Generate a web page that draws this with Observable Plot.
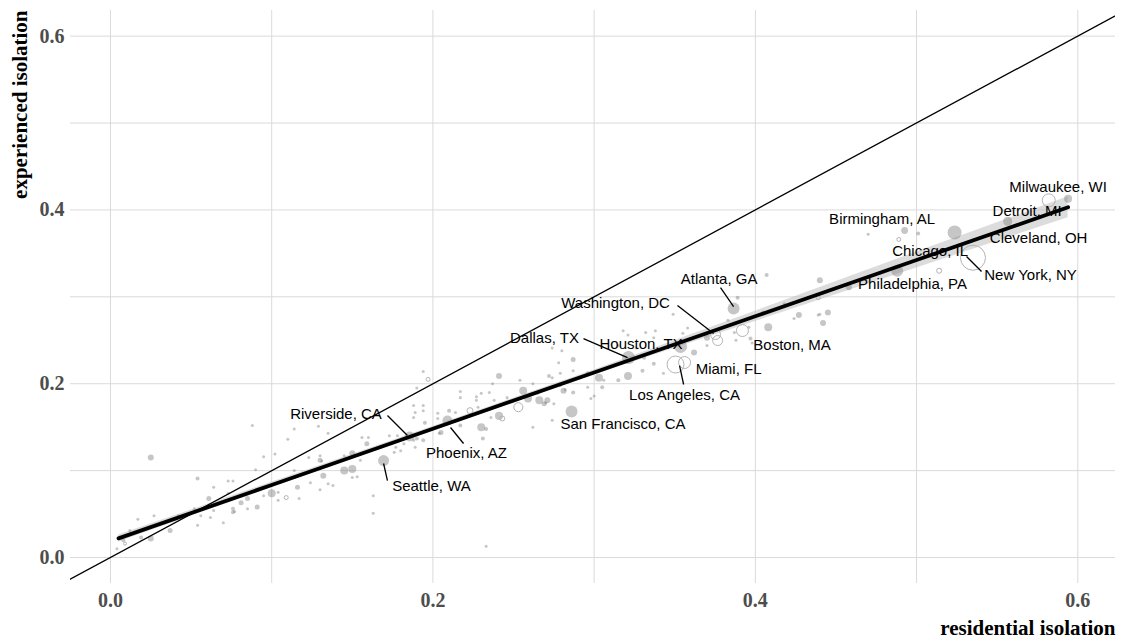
<!DOCTYPE html>
<html>
<head>
<meta charset="utf-8">
<script src="https://cdn.jsdelivr.net/npm/d3@7"></script>
<script src="https://cdn.jsdelivr.net/npm/@observablehq/plot@0.6"></script>
<style>
  body { margin: 0; background: #fff; }
  #chart svg { display: block; }
</style>
</head>
<body>
<div id="chart"></div>
<script>
// ---- scale extents and ticks ----
const xDomain = [-0.0248, 0.6234];
const yDomain = [-0.0299, 0.6295];
const gridTicks = [0, 0.1, 0.2, 0.3, 0.4, 0.5, 0.6];
const axisTicks = [0, 0.2, 0.4, 0.6];
const identityLine = [-0.03, 0.63]; // y = x reference line

// ---- unlabelled metros (filled) : residential, experienced, population (M) ----
const ptX = [0.025,0.054,0.004,0.006,0.008,0.012,0.017,0.019,0.025,0.027,0.037,0.042,0.052,0.054,0.056,0.061,0.062,0.064,0.064,0.070,
  0.073,0.073,0.076,0.076,0.077,0.076,0.081,0.085,0.085,0.088,0.090,0.091,0.095,0.095,0.100,0.102,0.104,0.110,0.114,0.114,
  0.116,0.117,0.114,0.123,0.124,0.129,0.130,0.130,0.131,0.130,0.132,0.135,0.135,0.138,0.145,0.145,0.150,0.150,0.153,0.156,
  0.159,0.160,0.163,0.163,0.173,0.174,0.177,0.178,0.180,0.188,0.189,0.190,0.194,0.194,0.195,0.203,0.205,0.204,0.210,0.214,
  0.217,0.228,0.230,0.233,0.231,0.241,0.241,0.194,0.190,0.217,0.217,0.227,0.230,0.235,0.237,0.246,0.256,0.259,0.266,0.269,
  0.270,0.272,0.274,0.278,0.281,0.282,0.287,0.287,0.274,0.262,0.296,0.296,0.298,0.300,0.303,0.305,0.315,0.318,0.318,0.321,
  0.321,0.326,0.331,0.332,0.338,0.337,0.349,0.362,0.370,0.383,0.389,0.388,0.397,0.396,0.398,0.408,0.405,0.407,0.418,0.424,
  0.427,0.439,0.440,0.442,0.445,0.440,0.458,0.470,0.501,0.155,0.150,0.104,0.227,0.238,0.236,0.254,0.262,0.265,0.271,0.274,
  0.279,0.280,0.203,0.194,0.189,0.188,0.188,0.176,0.182,0.233,0.287,0.343,0.330,0.306,0.300,0.355,0.358,0.387,0.370,0.337,
  0.315,0.279,0.275];
const ptY = [0.115,0.091,0.010,0.023,0.020,0.031,0.044,0.023,0.022,0.048,0.031,0.048,0.056,0.037,0.048,0.068,0.046,0.054,0.081,0.040,
  0.074,0.088,0.088,0.052,0.053,0.056,0.063,0.068,0.056,0.152,0.101,0.058,0.071,0.116,0.074,0.119,0.066,0.136,0.100,0.092,
  0.081,0.068,0.148,0.115,0.086,0.151,0.117,0.112,0.111,0.078,0.094,0.143,0.085,0.083,0.117,0.100,0.102,0.120,0.093,0.138,
  0.131,0.138,0.071,0.051,0.140,0.131,0.127,0.140,0.123,0.175,0.127,0.137,0.135,0.175,0.155,0.166,0.144,0.143,0.169,0.167,
  0.152,0.173,0.150,0.148,0.137,0.163,0.209,0.214,0.195,0.191,0.184,0.185,0.189,0.190,0.200,0.184,0.192,0.183,0.181,0.177,
  0.178,0.209,0.241,0.224,0.192,0.193,0.190,0.228,0.158,0.150,0.212,0.196,0.183,0.186,0.207,0.196,0.204,0.224,0.261,0.256,
  0.209,0.241,0.230,0.259,0.261,0.223,0.280,0.236,0.253,0.273,0.299,0.250,0.252,0.265,0.247,0.265,0.282,0.325,0.292,0.275,
  0.279,0.279,0.280,0.270,0.282,0.319,0.311,0.372,0.373,0.112,0.092,0.075,0.181,0.181,0.161,0.204,0.200,0.189,0.181,0.207,
  0.198,0.238,0.160,0.169,0.167,0.161,0.135,0.121,0.131,0.013,0.215,0.212,0.215,0.204,0.213,0.258,0.264,0.259,0.244,0.253,
  0.244,0.212,0.177];
const ptPop = [1.15,0.51,0.29,0.29,0.51,0.29,0.29,0.51,1.15,0.29,0.8,0.29,0.29,0.29,0.29,0.8,0.29,0.29,0.29,0.29,
  0.29,0.29,0.29,0.51,0.29,0.51,0.8,0.8,0.29,0.29,0.29,0.8,0.29,0.29,2.05,0.29,0.29,0.29,0.29,0.29,
  0.8,0.29,0.29,0.29,0.29,0.29,0.29,0.8,0.29,0.29,1.15,0.29,0.29,0.29,0.29,2.05,2.05,1.15,0.29,0.29,
  0.8,0.29,0.29,0.29,0.29,0.29,0.29,0.29,0.29,0.29,0.29,0.51,0.51,0.29,0.51,0.29,0.8,0.29,0.51,0.29,
  0.51,0.29,2.05,0.51,0.51,2.05,1.15,0.29,0.29,0.29,0.29,0.29,0.29,0.29,0.29,0.29,2.05,2.05,2.05,0.8,
  0.29,0.51,0.29,0.29,1.15,0.29,0.51,0.8,0.29,0.29,0.51,0.29,0.29,0.29,2.05,0.51,0.51,0.29,0.29,0.29,
  2.05,0.29,0.51,0.29,0.29,0.51,0.29,1.15,1.15,0.29,0.51,0.29,0.51,0.29,0.29,2.05,0.51,0.51,0.29,0.29,
  1.15,0.29,0.29,1.15,1.15,1.15,1.15,0.29,0.51,0.29,0.29,0.29,0.29,0.29,0.29,0.29,0.29,0.29,1.15,0.29,
  0.29,0.29,0.29,0.29,0.29,0.29,0.29,0.29,0.29,0.29,0.29,0.29,0.51,0.29,0.29,0.29,0.29,0.29,0.29,0.29,
  0.29,0.29,0.29];

// ---- unlabelled metros (open circles) ----
const openX = [0.009, 0.109, 0.223, 0.243, 0.197, 0.253, 0.439, 0.489, 0.514, 0.3766];
const openY = [0.016, 0.069, 0.169, 0.160, 0.205, 0.173, 0.299, 0.366, 0.330, 0.2497];
const openPop = [0.29, 0.51, 1.15, 0.8, 0.51, 2.6, 0.51, 0.51, 0.8, 3.2];

// ---- labelled metros ----
const cityName = ["Milwaukee, WI","Detroit, MI","Cleveland, OH","Chicago, IL","New York, NY","Philadelphia, PA",
  "Birmingham, AL","Atlanta, GA","Washington, DC","Dallas, TX","Houston, TX","Miami, FL","Los Angeles, CA",
  "Boston, MA","San Francisco, CA","Riverside, CA","Phoenix, AZ","Seattle, WA"];
const cityX = [0.594,0.582,0.5565,0.5236,0.535,0.488,0.4926,0.3865,0.3753,0.3213,0.3536,0.3561,0.3505,0.392,0.286,0.1855,0.209,0.1694];
const cityY = [0.413,0.411,0.387,0.374,0.345,0.330,0.3763,0.2865,0.2566,0.2301,0.2428,0.2244,0.2221,0.2612,0.168,0.1392,0.1577,0.1116];
const cityPop = [2.05,5.4,2.6,6.3,20,4.6,1.5,4.6,3.2,5.4,5.4,4.6,9.2,4.6,4.6,3.2,3.2,3.9];
const cityOpen = [false,true,false,false,true,false,false,false,true,false,false,true,true,true,false,false,false,false];
const labelX = [0.5878,0.5686,0.5757,0.5084,0.5707,0.4975,0.4786,0.3775,0.3133,0.2692,0.3291,0.3834,0.3561,0.4228,0.3179,0.1399,0.2208,0.1991];
const labelY = [0.4263,0.3982,0.3677,0.3521,0.3251,0.3142,0.389,0.3199,0.2929,0.2526,0.2451,0.2163,0.1864,0.2445,0.153,0.1646,0.1203,0.0817];

// ---- label leader segments ----
const segX1 = [0.531, 0.3784, 0.3517, 0.2934, 0.353, 0.1718, 0.2109, 0.1694];
const segY1 = [0.3464, 0.3107, 0.290, 0.252, 0.2209, 0.1634, 0.1496, 0.1082];
const segX2 = [0.5403, 0.3865, 0.3741, 0.3207, 0.3555, 0.1842, 0.219, 0.1718];
const segY2 = [0.3291, 0.2888, 0.2578, 0.2301, 0.1991, 0.1404, 0.1312, 0.0886];

// ---- fitted line and its confidence band ----
const fitX  = [0.005, 0.1, 0.2, 0.3, 0.4, 0.5, 0.594];
const fitY  = [0.0220, 0.0835, 0.1482, 0.2129, 0.2776, 0.3423, 0.4031];
const fitLo = [0.0180, 0.0805, 0.1457, 0.2099, 0.2717, 0.3331, 0.3911];
const fitHi = [0.0260, 0.0865, 0.1507, 0.2159, 0.2835, 0.3515, 0.4151];

// ---- build tables ----
const filled = ptX.map((x, i) => ({x, y: ptY[i], pop: ptPop[i]}));
const opened = openX.map((x, i) => ({x, y: openY[i], pop: openPop[i]}));
const cities = cityName.map((name, i) => ({name, x: cityX[i], y: cityY[i], pop: cityPop[i], open: cityOpen[i], lx: labelX[i], ly: labelY[i]}));
const allFilled = filled.concat(cities.filter(c => !c.open));
const allOpen = opened.concat(cities.filter(c => c.open));
const segs = segX1.map((x1, i) => ({x1, y1: segY1[i], x2: segX2[i], y2: segY2[i]}));
const band = fitX.map((x, i) => ({x, fit: fitY[i], lo: fitLo[i], hi: fitHi[i]}));

const serif = "'Liberation Serif', 'Times New Roman', serif";
const sans = "'Liberation Sans', Arial, Helvetica, sans-serif";

const chart = Plot.plot({
  width: 1124,
  height: 639,
  marginLeft: 70,
  marginRight: 9,
  marginTop: 10,
  marginBottom: 56,
  x: {domain: xDomain},
  y: {domain: yDomain},
  r: {type: "sqrt", domain: [0, 20], range: [0, 12.5]},
  style: {fontFamily: serif, background: "#fff"},
  marks: [
    Plot.gridX(gridTicks, {stroke: "#dadada", strokeOpacity: 1, strokeWidth: 1}),
    Plot.gridY(gridTicks, {stroke: "#dadada", strokeOpacity: 1, strokeWidth: 1}),
    Plot.axisX(axisTicks, {tickSize: 0, tickPadding: 9, tickFormat: d3.format(".1f"), fontSize: 20, fontWeight: "bold", fill: "#4d4d4d", label: null}),
    Plot.axisY(axisTicks, {tickSize: 0, tickPadding: 6, tickFormat: d3.format(".1f"), fontSize: 20, fontWeight: "bold", fill: "#4d4d4d", label: null}),
    Plot.areaY(band, {x: "x", y1: "lo", y2: "hi", fill: "#c4c4c4", fillOpacity: 0.6}),
    Plot.dot(allFilled, {x: "x", y: "y", r: "pop", fill: "#808080", fillOpacity: 0.45, stroke: "none"}),
    Plot.dot(allOpen, {x: "x", y: "y", r: "pop", fill: "none", stroke: "#b3b3b3", strokeWidth: 1}),
    Plot.line(identityLine, {x: d => d, y: d => d, stroke: "#000", strokeWidth: 1.3, clip: true}),
    Plot.line(band, {x: "x", y: "fit", stroke: "#000", strokeWidth: 3.8}),
    Plot.link(segs, {x1: "x1", y1: "y1", x2: "x2", y2: "y2", stroke: "#000", strokeWidth: 1.3}),
    Plot.text(cities, {x: "lx", y: "ly", text: "name", fontFamily: sans, fontSize: 15, fill: "#000"}),
    Plot.text(["experienced isolation"], {text: d => d, frameAnchor: "top-left", rotate: -90, textAnchor: "end", lineAnchor: "middle", dx: -50, fontSize: 21, fontWeight: "bold", fill: "#000"}),
    Plot.text(["residential isolation"], {text: d => d, frameAnchor: "bottom-right", textAnchor: "end", lineAnchor: "middle", dy: 45, fontSize: 21, fontWeight: "bold", fill: "#000"})
  ]
});
document.getElementById("chart").appendChild(chart);
</script>
</body>
</html>
